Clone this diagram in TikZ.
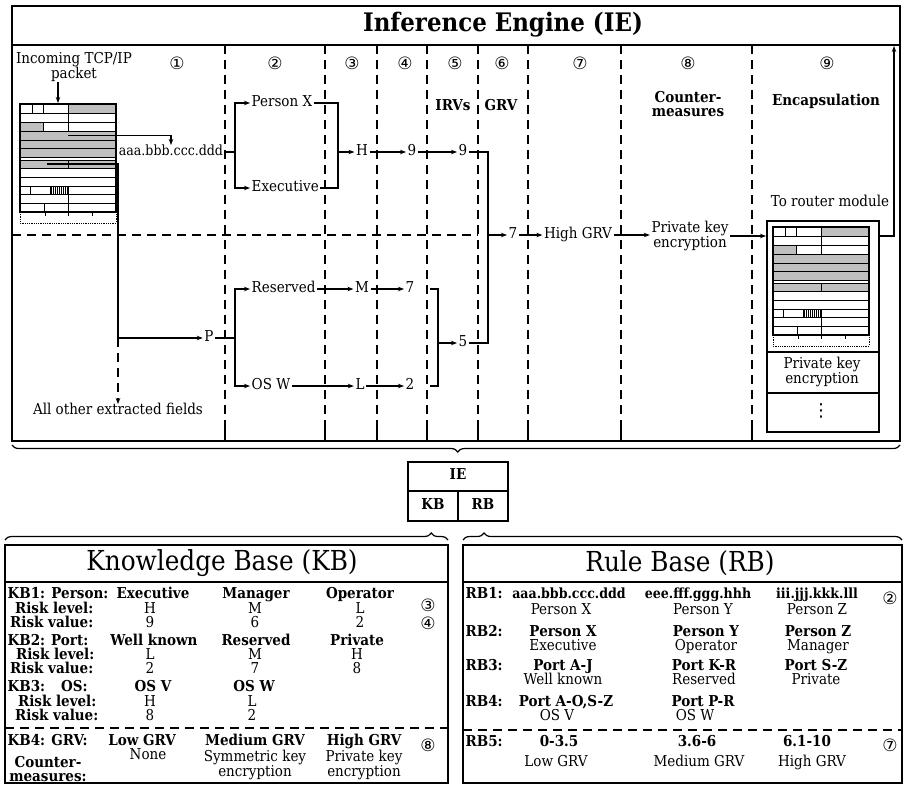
\documentclass[tikz,border=0pt]{standalone}
\usepackage{fontspec}
\setmainfont{DejaVu Serif Condensed}
\newfontfamily\circfont{DejaVu Sans}
\usetikzlibrary{arrows.meta,decorations.pathreplacing}
\tikzset{
  txt/.style={inner xsep=1.5pt, inner ysep=0pt, text height=10.5pt, text depth=3pt, font=\fontsize{15}{14}\selectfont},
  btxt/.style={txt, font=\fontsize{15}{14}\selectfont\bfseries},
  mtxt/.style={inner xsep=1.5pt, inner ysep=0pt, align=center, font=\fontsize{15}{14.5}\selectfont},
  mbtxt/.style={mtxt, font=\fontsize{15}{14.5}\selectfont\bfseries},
  ttlb/.style={inner sep=1pt, font=\fontsize{25.5}{30}\selectfont\bfseries},
  ttl/.style={inner sep=1pt, font=\fontsize{27.5}{30}\selectfont},
  cnum/.style={inner sep=0pt, font=\circfont\fontsize{17}{17}\selectfont},
  ln/.style={line width=1.2pt},
  arr/.style={line width=1.2pt, -{Stealth[length=6pt,width=4.5pt]}},
  dsh/.style={line width=1.2pt, dash pattern=on 9pt off 6pt},
  box/.style={line width=1.5pt},
  pg/.style={fill=gray!50}
}
\newcommand\pkt[2]{%
\begin{scope}[shift={(#1,#2)}]
  \fill[pg] (48,0) rectangle (96,9);
  \fill[pg] (0,18) rectangle (23,27);
  \fill[pg] (0,27) rectangle (96,53);
  \fill[pg] (0,56) rectangle (96,64.5);
  \foreach \h in {31,33,...,47} \draw[line width=0.6pt] (\h,82) -- (\h,90.5);
  \foreach \r in {9,18,27,36,44.5,53,56,64.5,73,82,90.5,99} \draw[line width=0.8pt] (0,\r) -- (96,\r);
  \draw[line width=0.8pt] (12,0)--(12,9) (23,0)--(23,9) (48,0)--(48,27) (23,18)--(23,27)
     (48,56)--(48,64.5) (10,82)--(10,90.5) (30,82)--(30,90.5) (48,82)--(48,108) (24,99)--(24,108);
  \draw[line width=1.1pt] (0,0) rectangle (96,108);
  \draw[line width=0.8pt, densely dotted] (0,108) rectangle (96,119);
  \draw[line width=0.8pt] (25,108)--(25,112) (48,108)--(48,112) (72,108)--(72,112);
\end{scope}}
\begin{document}
\begin{tikzpicture}[x=1pt,y=-1pt]
\useasboundingbox (0,0) rectangle (904,785);

% ---------- Inference engine ----------
\draw[box] (12,6) rectangle (900,441);
\draw[box] (12,45) -- (900,45);
\node[ttlb] (ietitle) at (503,25) {Inference Engine (IE)};

\foreach \x in {225,325,377,427,478,528,621,752} {
  \draw[dsh] (\x,45) -- (\x,428);
  \draw[ln] (\x,428) -- (\x,441);
}
\draw[dsh] (12,235) -- (478,235);

\node[cnum] (c1) at (177,63) {①};
\node[cnum] (c2) at (275,63) {②};
\node[cnum] (c3) at (352,63) {③};
\node[cnum] (c4) at (405,63) {④};
\node[cnum] (c5) at (455,63) {⑤};
\node[cnum] (c6) at (502,63) {⑥};
\node[cnum] (c7) at (580,63) {⑦};
\node[cnum] (c8) at (688,63) {⑧};
\node[cnum] (c9) at (827,63) {⑨};

\node[btxt] (irv) at (453,107) {IRVs};
\node[btxt] (grvh) at (501,107) {GRV};
\node[mbtxt] (cmh) at (688,104) {Counter-\\measures};
\node[btxt] (encap) at (826,102) {Encapsulation};

\node[mtxt] (inc) at (74,67) {Incoming TCP/IP\\packet};
\coordinate (pkin) at (58,103);
\draw[arr] (inc.south -| pkin) -- (pkin);
\pkt{20}{104}

\coordinate (src1) at (68,135.5);
\coordinate (src2) at (47,164);
\node[txt,font=\fontsize{14}{14}\selectfont] (aaa) at (171,152) {aaa.bbb.ccc.ddd};
\draw[arr] (src1) -| (aaa.north);

% upper branch
\coordinate (j2a) at (235,152);
\node[txt,anchor=west] (px) at (250,103) {Person X};
\node[txt,anchor=west] (exe) at (250,188) {Executive};
\draw[ln] (aaa.east) -- (j2a);
\draw[arr] (j2a) |- (px.west);
\draw[arr] (j2a) |- (exe.west);
\coordinate (j3a) at (338,152);
\node[txt] (H) at (362,152) {H};
\draw[ln] (px.east) -| (j3a);
\draw[ln] (exe.east) -| (j3a);
\draw[arr] (j3a) -- (H.west);
\node[txt] (n9a) at (412,152) {9};
\draw[arr] (H.east) -- (n9a.west);
\node[txt] (n9b) at (463,152) {9};
\draw[arr] (n9a.east) -- (n9b.west);

% lower branch
\node[txt] (P) at (209,338) {P};
\coordinate (jP) at (118,338);
\draw[arr] (src2) -| (jP) -- (P.west);
\node[txt] (oth) at (118,411) {All other extracted fields};
\draw[dsh,arr] (jP) -- (oth.north);
\coordinate (j2b) at (235,338);
\draw[ln] (P.east) -- (j2b);
\node[txt,anchor=west] (res) at (250,289) {Reserved};
\node[txt,anchor=west] (osw) at (250,386) {OS W};
\draw[arr] (j2b) |- (res.west);
\draw[arr] (j2b) |- (osw.west);
\node[txt] (M) at (362,289) {M};
\draw[arr] (res.east) -- (M.west);
\node[txt] (n7b) at (410,289) {7};
\draw[arr] (M.east) -- (n7b.west);
\node[txt] (L) at (360,386) {L};
\draw[arr] (osw.east) -- (L.west);
\node[txt] (n2) at (410,386) {2};
\draw[arr] (L.east) -- (n2.west);
\coordinate (b5t) at (430,289);
\coordinate (b5b) at (430,386);
\coordinate (j5) at (438,343);
\draw[ln] (b5t) -| (j5) |- (b5b);
\node[txt] (n5) at (463,343) {5};
\draw[arr] (j5) -- (n5.west);

% GRV
\coordinate (j6) at (488,235);
\draw[ln] (n9b.east) -| (j6);
\draw[ln] (n5.east) -| (j6);
\node[txt] (n7) at (513,235) {7};
\draw[arr] (j6) -- (n7.west);
\node[txt] (hgrv) at (578,235) {High GRV};
\draw[arr] (n7.east) -- (hgrv.west);
\node[mtxt] (pk) at (690,236) {Private key\\encryption};
\draw[arr] (hgrv.east) -- (hgrv.east -| pk.west);

% encapsulation
\node[draw,box,minimum width=112pt,minimum height=211pt,anchor=north west,inner sep=0pt] (enc) at (766,220) {};
\draw[arr] (pk.east) -- (pk.east -| enc.west);
\pkt{773}{227}
\draw[ln] (766,352) -- (878,352);
\draw[ln] (766,393) -- (878,393);
\node[mtxt] (encpk) at (822,372) {Private key\\encryption};
\node[inner sep=0pt, font=\circfont\fontsize{18}{18}\selectfont] (vd) at (821,411) {⋮};
\node[txt] (router) at (830,203) {To router module};
\coordinate (exitT) at (894,46);
\draw[arr] (enc.east |- pk.east) -| (exitT);

% brace under IE
\draw[ln, decorate, decoration={brace, mirror, amplitude=7pt, aspect=0.502}] (12,445) -- (900,445);

% ---------- IE / KB / RB ----------
\draw[box] (408,462) rectangle (508,521);
\draw[ln] (408,491) -- (508,491);
\draw[ln] (458,491) -- (458,521);
\node[btxt] (tIE) at (458,476) {IE};
\node[btxt] (tKB) at (433,506) {KB};
\node[btxt] (tRB) at (483,506) {RB};

\draw[ln, decorate, decoration={brace, amplitude=7pt, aspect=0.962}] (5,540) -- (448,540);
\draw[ln, decorate, decoration={brace, amplitude=7pt, aspect=0.048}] (463,540) -- (902,540);

% ---------- Knowledge base ----------
\draw[box] (5,545) rectangle (448,783);
\draw[box] (5,582) -- (448,582);
\node[ttl] (kbt) at (222,563) {Knowledge Base (KB)};
\draw[dsh] (5,728) -- (448,728);

\node[btxt,anchor=west] (kb1) at (6,595) {KB1: Person:};
\node[btxt] (kb1a) at (153,595) {Executive};
\node[btxt] (kb1b) at (256,595) {Manager};
\node[btxt] (kb1c) at (360,595) {Operator};
\node[cnum] (kc3) at (428,605) {③};
\node[btxt,anchor=east] (kr1l) at (95,610) {Risk level:};
\node[txt] (kr1a) at (150,610) {H};
\node[txt] (kr1b) at (255,610) {M};
\node[txt] (kr1c) at (360,610) {L};
\node[btxt,anchor=east] (kv1l) at (95,624) {Risk value:};
\node[txt] (kv1a) at (150,624) {9};
\node[txt] (kv1b) at (255,624) {6};
\node[txt] (kv1c) at (360,624) {2};
\node[cnum] (kc4) at (428,623) {④};

\node[btxt,anchor=west] (kb2) at (6,642) {KB2:\hspace{6pt}Port:};
\node[btxt] (kb2a) at (154,642) {Well known};
\node[btxt] (kb2b) at (256,642) {Reserved};
\node[btxt] (kb2c) at (357,642) {Private};
\node[btxt,anchor=east] (kr2l) at (96,656) {Risk level:};
\node[txt] (kr2a) at (150,656) {L};
\node[txt] (kr2b) at (255,656) {M};
\node[txt] (kr2c) at (357,656) {H};
\node[btxt,anchor=east] (kv2l) at (95,670) {Risk value:};
\node[txt] (kv2a) at (150,670) {2};
\node[txt] (kv2b) at (255,670) {7};
\node[txt] (kv2c) at (357,670) {8};

\node[btxt,anchor=west] (kb3) at (6,688) {KB3:\hspace{16pt}OS:};
\node[btxt] (kb3a) at (153,688) {OS V};
\node[btxt] (kb3b) at (254,688) {OS W};
\node[btxt,anchor=east] (kr3l) at (98,703) {Risk level:};
\node[txt] (kr3a) at (150,703) {H};
\node[txt] (kr3b) at (252,703) {L};
\node[btxt,anchor=east] (kv3l) at (100,717) {Risk value:};
\node[txt] (kv3a) at (150,717) {8};
\node[txt] (kv3b) at (252,717) {2};

\node[btxt,anchor=west] (kb4) at (6,742) {KB4: GRV:};
\node[btxt] (kb4a) at (142,742) {Low GRV};
\node[btxt] (kb4b) at (255,742) {Medium GRV};
\node[btxt] (kb4c) at (364,742) {High GRV};
\node[cnum] (kc8) at (428,745) {⑧};
\node[mbtxt] (kcm) at (48,769) {Counter-\\measures:};
\node[txt] (kn1) at (148,756) {None};
\node[mtxt] (kn2) at (255,765) {Symmetric key\\encryption};
\node[mtxt] (kn3) at (364,765) {Private key\\encryption};

% ---------- Rule base ----------
\draw[box] (463,545) rectangle (902,783);
\draw[box] (463,582) -- (902,582);
\node[ttl] (rbt) at (680,563) {Rule Base (RB)};
\draw[dsh] (463,730) -- (902,730);

\node[btxt,anchor=west] (rb1) at (464,595) {RB1:};
\node[btxt,font=\fontsize{14}{14}\selectfont\bfseries] (rb1a) at (569,595) {aaa.bbb.ccc.ddd};
\node[btxt,font=\fontsize{14}{14}\selectfont\bfseries] (rb1b) at (698,595) {eee.fff.ggg.hhh};
\node[btxt,font=\fontsize{14}{14}\selectfont\bfseries] (rb1c) at (817,595) {iii.jjj.kkk.lll};
\node[cnum] (rc2) at (890,598) {②};
\node[txt] (rp1a) at (561,611) {Person X};
\node[txt] (rp1b) at (703,611) {Person Y};
\node[txt] (rp1c) at (817,611) {Person Z};

\node[btxt,anchor=west] (rb2) at (464,633) {RB2:};
\node[btxt] (rb2a) at (563,633) {Person X};
\node[btxt] (rb2b) at (706,633) {Person Y};
\node[btxt] (rb2c) at (818,633) {Person Z};
\node[txt] (rp2a) at (563,647) {Executive};
\node[txt] (rp2b) at (706,647) {Operator};
\node[txt] (rp2c) at (818,647) {Manager};

\node[btxt,anchor=west] (rb3) at (464,667) {RB3:};
\node[btxt] (rb3a) at (563,667) {Port A-J};
\node[btxt] (rb3b) at (704,667) {Port K-R};
\node[btxt] (rb3c) at (816,667) {Port S-Z};
\node[txt] (rp3a) at (563,681) {Well known};
\node[txt] (rp3b) at (704,681) {Reserved};
\node[txt] (rp3c) at (816,681) {Private};

\node[btxt,anchor=west] (rb4) at (464,703) {RB4:};
\node[btxt] (rb4a) at (566,703) {Port A-O,S-Z};
\node[btxt] (rb4b) at (703,703) {Port P-R};
\node[txt] (rp4a) at (557,717) {OS V};
\node[txt] (rp4b) at (695,717) {OS W};

\node[btxt,anchor=west] (rb5) at (464,743) {RB5:};
\node[btxt] (rb5a) at (559,743) {0-3.5};
\node[btxt] (rb5b) at (697,743) {3.6-6};
\node[btxt] (rb5c) at (807,743) {6.1-10};
\node[cnum] (rc7) at (890,745) {⑦};
\node[txt] (rp5a) at (556,763) {Low GRV};
\node[txt] (rp5b) at (699,763) {Medium GRV};
\node[txt] (rp5c) at (812,763) {High GRV};
\end{tikzpicture}
\end{document}
